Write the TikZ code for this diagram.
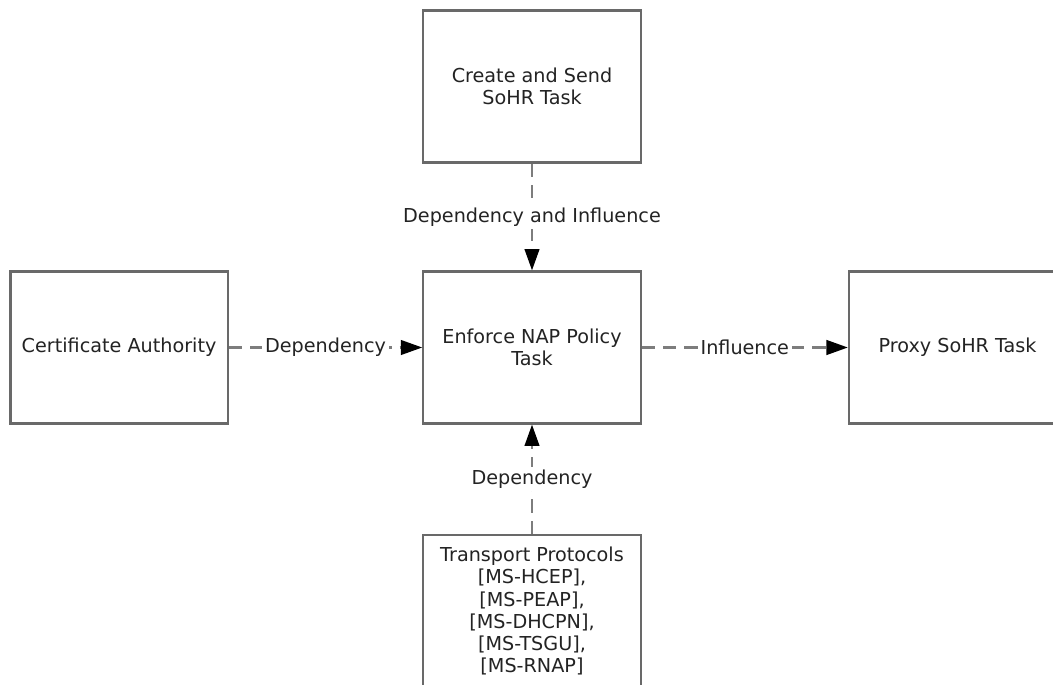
\documentclass[tikz,border=0pt]{standalone}
\usepackage{fontspec}
\setmainfont{DejaVu Sans}
\usepackage{tikz}
\usetikzlibrary{
	positioning,
	arrows.meta
}
\definecolor{BoxGray}{RGB}{105,105,105}
\definecolor{LinkGray}{RGB}{125,125,125}
\definecolor{TextDark}{RGB}{35,35,35}

\begin{document}
\begin{tikzpicture}[
				x=0.75pt,
				y=-0.75pt,
				font=\fontsize{14.4}{16.6}\selectfont,
				taskbox/.style={
					draw=BoxGray,
					line width=1.7pt,
					fill=white,
					text=TextDark,
					align=center,
					minimum width=163pt,
					minimum height=114pt,
					inner sep=3pt
				},
				link/.style={
					LinkGray,
					line width=1.6pt,
					dash pattern=on 10pt off 6pt,
					-{Triangle[length=16pt,width=11pt,fill=black,color=black]}
				},
				linklabel/.style={
					fill=white,
					text=TextDark,
					inner sep=2pt
				}
			]
				
				% page frame
				\clip (0,0) rectangle (1053,685);
				\fill[white] (0,0) rectangle (1053,685);
				
				\node[taskbox] (E) at (532,347.5)
				{Enforce NAP Policy\\Task};
				
				\node[
				taskbox,
				above=80pt of E
				]
				(T)
				{Create and Send\\SoHR Task};
				
				\node[
				taskbox,
				left=145pt of E
				]
				(CA)
				{Certificate Authority};
				
				\node[
				taskbox,
				right=154.5pt of E
				]
				(PX)
				{Proxy SoHR Task};
				
				\node[
				taskbox,
				below=82pt of E
				]
				(TP)
				{Transport Protocols\\{[}MS-HCEP{]},\\{[}MS-PEAP{]},\\{[}MS-DHCPN{]},\\{[}MS-TSGU{]},\\{[}MS-RNAP{]}};
				
				% connectors
				\draw[link]
				(T) -- node[linklabel] {Dependency and Influence} (E);
				
				\draw[link]
				(CA) -- node[linklabel] {Dependency} (E);
				
				\draw[link]
				(E) -- node[linklabel] {Influence} (PX);
				
				\draw[link]
				(TP) -- node[linklabel] {Dependency} (E);
				
			\end{tikzpicture}
\end{document}
